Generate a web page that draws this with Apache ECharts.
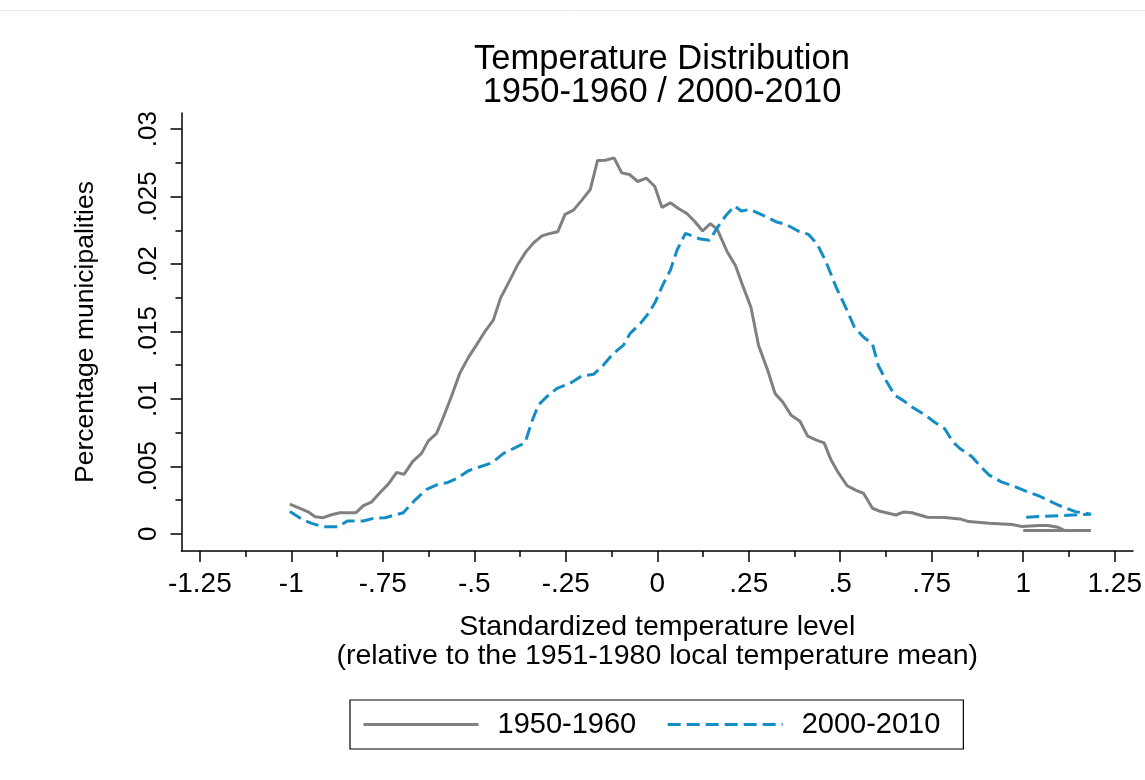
<!DOCTYPE html>
<html>
<head>
<meta charset="utf-8">
<script src="https://cdn.jsdelivr.net/npm/echarts@6/dist/echarts.min.js"></script>
<style>
html,body{margin:0;padding:0;background:#fff;}
#chart{width:1145px;height:780px;}
</style>
</head>
<body>
<div id="chart"></div>
<script>
// ---- data ----
const seriesNames = ['1950-1960', '2000-2010'];

const grayX = [-1.004,-0.954,-0.935,-0.913,-0.890,-0.867,-0.823,-0.803,-0.780,-0.758,-0.735,-0.712,-0.692,-0.668,-0.644,-0.626,-0.603,-0.585,-0.562,-0.539,-0.516,-0.493,-0.470,-0.448,-0.428,-0.404,-0.381,-0.359,-0.338,-0.315,-0.293,-0.272,-0.252,-0.229,-0.206,-0.183,-0.163,-0.142,-0.118,-0.097,-0.076,-0.053,-0.030,-0.007,0.013,0.036,0.058,0.081,0.103,0.124,0.145,0.164,0.190,0.214,0.232,0.256,0.277,0.302,0.322,0.343,0.366,0.390,0.411,0.435,0.456,0.475,0.496,0.519,0.542,0.564,0.588,0.606,0.652,0.674,0.696,0.738,0.785,0.827,0.851,0.907,0.969,0.997,1.044,1.067,1.095,1.114,1.185,1.000];
const grayY = [0.00220,0.00163,0.00126,0.00119,0.00141,0.00156,0.00156,0.00208,0.00237,0.00304,0.00368,0.00455,0.00440,0.00537,0.00596,0.00687,0.00744,0.00860,0.01021,0.01193,0.01308,0.01404,0.01503,0.01584,0.01749,0.01873,0.01997,0.02090,0.02157,0.02209,0.02227,0.02239,0.02368,0.02400,0.02474,0.02553,0.02768,0.02770,0.02787,0.02676,0.02664,0.02612,0.02637,0.02577,0.02420,0.02454,0.02412,0.02375,0.02314,0.02245,0.02300,0.02257,0.02097,0.01987,0.01851,0.01679,0.01395,0.01211,0.01039,0.00977,0.00878,0.00834,0.00724,0.00694,0.00674,0.00546,0.00447,0.00356,0.00324,0.00299,0.00189,0.00169,0.00139,0.00162,0.00156,0.00122,0.00120,0.00110,0.00090,0.00078,0.00068,0.00053,0.00061,0.00061,0.00048,0.00024,0.00024,0.00024];

const blueX = [-1.004,-0.967,-0.944,-0.913,-0.872,-0.847,-0.803,-0.776,-0.744,-0.694,-0.662,-0.630,-0.598,-0.575,-0.548,-0.516,-0.484,-0.452,-0.420,-0.388,-0.361,-0.343,-0.325,-0.302,-0.274,-0.238,-0.206,-0.174,-0.147,-0.120,-0.092,-0.074,-0.046,-0.024,-0.005,0.017,0.036,0.054,0.077,0.118,0.143,0.164,0.190,0.211,0.230,0.253,0.294,0.324,0.352,0.385,0.413,0.437,0.460,0.489,0.517,0.539,0.564,0.588,0.604,0.625,0.649,0.672,0.696,0.733,0.757,0.785,0.808,0.827,0.860,0.884,0.907,0.940,0.973,1.011,1.044,1.095,1.142,1.185,1.000];
const blueY = [0.00165,0.00102,0.00077,0.00052,0.00052,0.00094,0.00094,0.00114,0.00119,0.00156,0.00250,0.00329,0.00368,0.00378,0.00410,0.00467,0.00497,0.00526,0.00596,0.00638,0.00675,0.00830,0.00954,0.01016,0.01078,0.01115,0.01171,0.01182,0.01251,0.01337,0.01399,0.01486,0.01560,0.01634,0.01720,0.01856,0.01955,0.02103,0.02227,0.02185,0.02176,0.02270,0.02368,0.02430,0.02393,0.02405,0.02356,0.02314,0.02294,0.02245,0.02220,0.02147,0.02024,0.01827,0.01666,0.01531,0.01457,0.01408,0.01248,0.01137,0.01026,0.00989,0.00940,0.00878,0.00829,0.00780,0.00681,0.00632,0.00571,0.00497,0.00435,0.00385,0.00354,0.00312,0.00280,0.00213,0.00164,0.00145,0.00122];

const xTicks = [-1.25,-1,-0.75,-0.5,-0.25,0,0.25,0.5,0.75,1,1.25];
const xTickLabels = ['-1.25','-1','-.75','-.5','-.25','0','.25','.5','.75','1','1.25'];
const xMinorTicks = [-1.125,-0.875,-0.625,-0.375,-0.125,0.125,0.375,0.625,0.875,1.125];
const yTicks = [0,0.005,0.01,0.015,0.02,0.025,0.03];
const yTickLabels = ['0','.005','.01','.015','.02','.025','.03'];
const yMinorTicks = [0.0025,0.0075,0.0125,0.0175,0.0225,0.0275];

// ---- chart ----
const FONT = '"Liberation Sans", Arial, Helvetica, sans-serif';
const GRAY = '#808080';
const BLUE = '#138dc3';
const pairs = (xs, ys) => xs.map((x, i) => [x, ys[i]]);
const labelFor = (ticks, labels) => v => {
  for (let i = 0; i < ticks.length; i++) if (Math.abs(ticks[i] - v) < 1e-9) return labels[i];
  return '';
};

const chart = echarts.init(document.getElementById('chart'), null, {renderer: 'canvas'});
chart.setOption({
  animation: false,
  backgroundColor: '#fff',
  textStyle: {fontFamily: FONT, color: '#000'},
  title: {
    text: 'Temperature Distribution\n1950-1960 / 2000-2010',
    left: 657, top: 38, textAlign: 'center',
    textStyle: {fontFamily: FONT, fontSize: 34.5, fontWeight: 'normal', color: '#000', lineHeight: 33}
  },
  legend: {
    data: seriesNames,
    left: 350, top: 700,
    orient: 'horizontal',
    borderColor: '#000', borderWidth: 1.2,
    padding: [10, 23, 10, 12],
    itemWidth: 115, itemHeight: 14, itemGap: 30,
    itemStyle: {opacity: 0},
    lineStyle: {width: 3},
    textStyle: {fontFamily: FONT, fontSize: 29, color: '#000', padding: [0, 0, 0, 14]}
  },
  grid: {left: 181.5, right: 12, top: 113, bottom: 229, containLabel: false},
  xAxis: [{
    type: 'value', min: -1.3, max: 1.3,
    name: 'Standardized temperature level\n(relative to the 1951-1980 local temperature mean)',
    nameLocation: 'middle', nameGap: 62,
    nameTextStyle: {fontFamily: FONT, fontSize: 28.5, color: '#000', lineHeight: 29},
    axisLine: {show: true, onZero: false, lineStyle: {color: '#000', width: 1.5}},
    axisTick: {show: true, customValues: xTicks, length: 11, lineStyle: {color: '#000', width: 1.5}},
    axisLabel: {show: true, customValues: xTicks, formatter: labelFor(xTicks, xTickLabels), margin: 19,
      fontFamily: FONT, fontSize: 28, color: '#000'},
    splitLine: {show: false}
  }, {
    type: 'value', min: -1.3, max: 1.3, position: 'bottom', gridIndex: 0,
    axisLine: {show: false, onZero: false},
    axisTick: {show: true, customValues: xMinorTicks, length: 6, lineStyle: {color: '#000', width: 1.5}},
    axisLabel: {show: false},
    splitLine: {show: false}
  }],
  yAxis: [{
    type: 'value', min: -0.00128, max: 0.0312,
    name: 'Percentage municipalities',
    nameLocation: 'middle', nameGap: 82, nameRotate: 90,
    nameTextStyle: {fontFamily: FONT, fontSize: 26.5, color: '#000'},
    axisLine: {show: true, onZero: false, lineStyle: {color: '#000', width: 1.5}},
    axisTick: {show: true, customValues: yTicks, length: 11, lineStyle: {color: '#000', width: 1.5}},
    axisLabel: {show: true, customValues: yTicks, formatter: labelFor(yTicks, yTickLabels), rotate: 90, margin: 20,
      fontFamily: FONT, fontSize: 26, color: '#000'},
    splitLine: {show: false}
  }, {
    type: 'value', min: -0.00128, max: 0.0312, position: 'left', gridIndex: 0,
    axisLine: {show: false, onZero: false},
    axisTick: {show: true, customValues: yMinorTicks, length: 6, lineStyle: {color: '#000', width: 1.5}},
    axisLabel: {show: false},
    splitLine: {show: false}
  }],
  graphic: [{
    type: 'line', shape: {x1: 0, y1: 10.5, x2: 1145, y2: 10.5},
    style: {stroke: '#ececec', lineWidth: 1}, silent: true
  }],
  series: [{
    name: seriesNames[0], type: 'line', xAxisIndex: 0, yAxisIndex: 0,
    data: pairs(grayX, grayY),
    symbol: 'none', showSymbol: false,
    lineStyle: {color: GRAY, width: 3, type: 'solid'},
    itemStyle: {color: GRAY}
  }, {
    name: seriesNames[1], type: 'line', xAxisIndex: 0, yAxisIndex: 0,
    data: pairs(blueX, blueY),
    symbol: 'none', showSymbol: false,
    lineStyle: {color: BLUE, width: 3, type: [13, 6]},
    itemStyle: {color: BLUE}
  }]
});
</script>
</body>
</html>
